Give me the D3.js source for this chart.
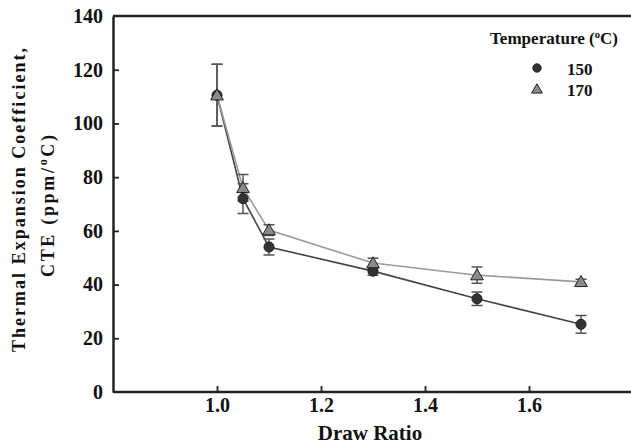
<!DOCTYPE html>
<html>
<head>
<meta charset="utf-8">
<script src="https://cdn.jsdelivr.net/npm/d3@7"></script>
<style>
  body { margin: 0; background: #fff; }
</style>
</head>
<body>
<script>
// draw ratio values shared by both series
const drawRatio = [1.0, 1.05, 1.1, 1.3, 1.5, 1.7]

// CTE (ppm/oC) at 150 C and its error
const cte150 = [110.5, 72, 54, 45, 34.7, 25.2]
const err150 = [11.5, 5.5, 3, 1.5, 2.5, 3.3]

// CTE (ppm/oC) at 170 C and its error
const cte170 = [110.5, 76, 60.3, 48, 43.5, 41]
const err170 = [11.5, 5, 2, 1.8, 3, 1]

const xTicks = [1.0, 1.2, 1.4, 1.6]
const yTicks = [0, 20, 40, 60, 80, 100, 120, 140]

const width = 631
const height = 444
const plotLeft = 113, plotTop = 16, plotBottom = 392
const serif = "'Liberation Serif', 'Times New Roman', serif"

const svg = d3.select("body").append("svg")
    .attr("width", width)
    .attr("height", height)
    .attr("font-family", serif)
    .attr("font-weight", "bold")
    .attr("fill", "#111")

const x = d3.scaleLinear().domain([0.8, 1.8]).range([plotLeft, plotLeft + 520])
const y = d3.scaleLinear().domain([0, 140]).range([plotBottom, plotTop])

// top frame line
svg.append("line")
    .attr("x1", plotLeft).attr("x2", width)
    .attr("y1", plotTop).attr("y2", plotTop)
    .attr("stroke", "#222").attr("stroke-width", 2.5)

// x axis, ticks pointing inwards
const xAxis = svg.append("g")
    .attr("transform", `translate(0,${plotBottom})`)
    .call(d3.axisBottom(x).tickValues(xTicks).tickFormat(d3.format(".1f")).tickSizeInner(-6).tickSizeOuter(0).tickPadding(6))
    .attr("font-family", serif).attr("font-size", 20)
xAxis.select(".domain").attr("stroke", "#222").attr("stroke-width", 2.5)
    .attr("d", `M${plotLeft},0H${width}`)
xAxis.selectAll(".tick line").attr("stroke", "#222").attr("stroke-width", 1.8)
xAxis.selectAll(".tick text").attr("fill", "#111")

// y axis
const yAxis = svg.append("g")
    .attr("transform", `translate(${plotLeft},0)`)
    .call(d3.axisLeft(y).tickValues(yTicks).tickSizeInner(-6).tickSizeOuter(0).tickPadding(10))
    .attr("font-family", serif).attr("font-size", 20)
yAxis.select(".domain").attr("stroke", "#222").attr("stroke-width", 2.5)
yAxis.selectAll(".tick line").attr("stroke", "#222").attr("stroke-width", 1.8)
yAxis.selectAll(".tick text").attr("fill", "#111")
yAxis.selectAll(".tick").filter(d => d === 0 || d === 140).select("line").remove()

// axis titles
svg.append("text")
    .attr("x", 370).attr("y", 440)
    .attr("text-anchor", "middle")
    .attr("font-size", 21)
    .text("Draw Ratio")

svg.append("text")
    .attr("transform", "translate(25,200) rotate(-90)")
    .attr("text-anchor", "middle")
    .attr("font-size", 18)
    .attr("textLength", 304).attr("lengthAdjust", "spacing")
    .text("Thermal Expansion Coefficient,")

const yl2 = svg.append("text")
    .attr("transform", "translate(54,206) rotate(-90)")
    .attr("text-anchor", "middle")
    .attr("font-size", 18)
    .attr("textLength", 142).attr("lengthAdjust", "spacing")
yl2.append("tspan").text("CTE (ppm/")
yl2.append("tspan").attr("font-size", 12).attr("dy", -7).text("o")
yl2.append("tspan").attr("dy", 7).text("C)")

const series = [
    {name: "150", vals: cte150, errs: err150, fill: "#333", line: "#444", shape: "circle"},
    {name: "170", vals: cte170, errs: err170, fill: "#8a8a8a", line: "#9a9a9a", shape: "triangle"}
]

const line = d3.line().x(d => x(d[0])).y(d => y(d[1]))
const circleSym = d3.symbol().type(d3.symbolCircle).size(80)
const triSym = d3.symbol().type(d3.symbolTriangle).size(70)

// lines first, then error bars, then markers
series.forEach(s => {
    const pts = drawRatio.map((d, i) => [d, s.vals[i]])
    svg.append("path")
        .attr("d", line(pts))
        .attr("fill", "none")
        .attr("stroke", s.line)
        .attr("stroke-width", 1.6)
})

series.forEach(s => {
    const g = svg.append("g")
    drawRatio.forEach((d, i) => {
        const cx = x(d)
        const y1 = y(s.vals[i] + s.errs[i])
        const y2 = y(s.vals[i] - s.errs[i])
        const path = `M${cx},${y1}V${y2}M${cx - 5.5},${y1}H${cx + 5.5}M${cx - 5.5},${y2}H${cx + 5.5}`
        g.append("path").attr("d", path).attr("stroke", "#555").attr("stroke-width", 1.5).attr("fill", "none")
    })
})

series.forEach(s => {
    svg.selectAll(null)
        .data(drawRatio.map((d, i) => [d, s.vals[i]]))
        .join("path")
        .attr("transform", d => `translate(${x(d[0])},${y(d[1]) + (s.shape === "triangle" ? 1 : 0)})`)
        .attr("d", s.shape === "circle" ? circleSym() : triSym())
        .attr("fill", s.fill)
        .attr("stroke", "#222")
        .attr("stroke-width", 1)
})

// legend
const lg = svg.append("g")
const lt = lg.append("text").attr("x", 490).attr("y", 44).attr("font-size", 16)
    .attr("textLength", 128).attr("lengthAdjust", "spacingAndGlyphs")
lt.append("tspan").text("Temperature (")
lt.append("tspan").attr("font-size", 10).attr("dy", -6).text("o")
lt.append("tspan").attr("dy", 6).text("C)")

series.forEach((s, i) => {
    const ly = 68 + i * 21
    lg.append("path")
        .attr("transform", `translate(537,${ly + (s.shape === "triangle" ? 1 : 0)})`)
        .attr("d", s.shape === "circle" ? d3.symbol().type(d3.symbolCircle).size(55)() : d3.symbol().type(d3.symbolTriangle).size(50)())
        .attr("fill", s.fill)
        .attr("stroke", "#222")
    lg.append("text").attr("x", 567).attr("y", ly + 7).attr("font-size", 17).text(s.name)
})
</script>
</body>
</html>
